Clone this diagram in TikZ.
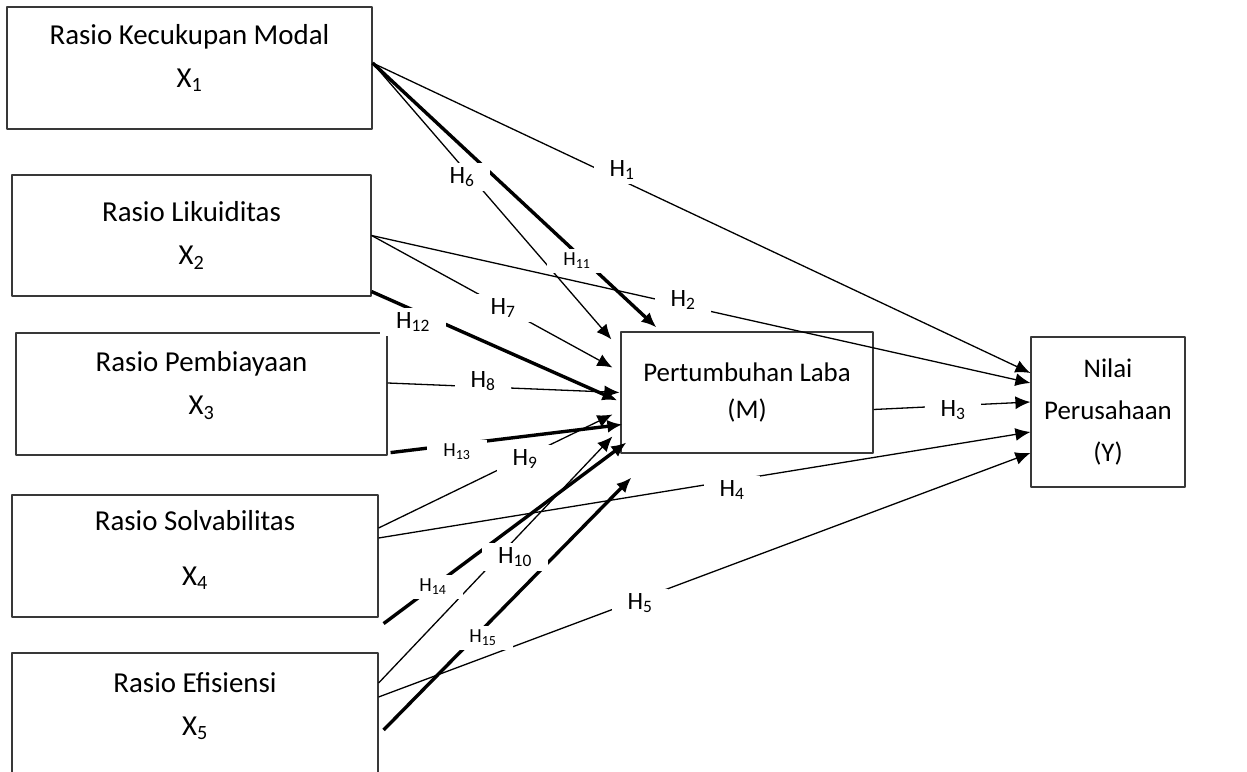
\documentclass[tikz,border=0pt]{standalone}
\usepackage{fontspec}
\setmainfont{Carlito}
\usetikzlibrary{arrows.meta}
\begin{document}
\begin{tikzpicture}[>={Latex[length=15bp,width=13bp]},line join=bevel,
  var box/.style={draw=black!78,line width=1.2bp,align=center,inner sep=0pt,font=\fontsize{29}{43}\selectfont},
  thin path/.style={black,line width=1.3bp,->},
  thick path/.style={black,line width=3.4bp,->},
  hyp/.style={fill=white,inner xsep=16bp,inner ysep=4bp,font=\fontsize{25}{28}\selectfont},
  hyp small/.style={hyp,font=\fontsize{20}{24}\selectfont}]
\useasboundingbox (0bp,0bp) rectangle (1247bp,772bp);
%%
\node (node_x1) at (189.5bp,704bp) [var box,minimum width=365bp,minimum height=122bp,text depth=24bp] {Rasio Kecukupan Modal\\X\textsubscript{1}};
  \node (node_x2) at (191.5bp,536.5bp) [var box,minimum width=359bp,minimum height=121bp] {Rasio Likuiditas\\X\textsubscript{2}};
  \node (node_x3) at (201.5bp,378bp) [var box,minimum width=371bp,minimum height=122bp,text depth=22bp] {Rasio Pembiayaan\\X\textsubscript{3}};
  \node (node_x4) at (195bp,216bp) [var box,minimum width=366bp,minimum height=122bp,text depth=16bp,font=\fontsize{29}{55}\selectfont] {Rasio Solvabilitas\\X\textsubscript{4}};
  \node (node_x5) at (195bp,59bp) [var box,minimum width=366bp,minimum height=120bp,text depth=18bp] {Rasio Efisiensi\\X\textsubscript{5}};
  \node (node_m) at (747bp,379.5bp) [var box,minimum width=252bp,minimum height=121bp,font=\fontsize{27}{37}\selectfont] {Pertumbuhan Laba\\(M)};
  \node (node_y) at (1108bp,360bp) [var box,minimum width=154bp,minimum height=150bp,font=\fontsize{27}{42}\selectfont] {Nilai\\Perusahaan\\(Y)};
%
  \draw [thin path] ([yshift=5bp]node_x1.east) -- ([yshift=39bp]node_y.west);
  \draw [thin path] ([yshift=5bp]node_x1.east) -- ([xshift=-9bp,yshift=-8bp]node_m.north west);
  \draw [thick path] ([yshift=5bp]node_x1.east) -- ([xshift=36bp,yshift=4bp]node_m.north west);
  \draw [thin path] (node_x2.east) -- ([yshift=29bp]node_y.west);
  \draw [thin path] (node_x2.east) -- ([xshift=-8bp,yshift=25bp]node_m.west);
  \draw [thick path] ([yshift=5bp]node_x2.south east) -- ([xshift=-3bp,yshift=-8bp]node_m.west);
  \draw [thin path] ([yshift=11bp]node_x3.east) -- ([xshift=-1bp]node_m.west);
  \draw [thick path] ([xshift=3bp,yshift=3bp]node_x3.south east) -- ([xshift=2bp,yshift=-32bp]node_m.west);
  \draw [thin path] ([yshift=-17bp]node_m.east) -- ([yshift=10bp]node_y.west);
  \draw [thin path] ([yshift=28bp]node_x4.east) -- ([xshift=-8bp,yshift=-22bp]node_m.west);
  \draw [thin path] ([yshift=18bp]node_x4.east) -- ([yshift=-20bp]node_y.west);
  \draw [thick path] ([xshift=5bp,yshift=-6bp]node_x4.south east) -- ([xshift=6bp,yshift=-50bp]node_m.west);
  \draw [thin path] ([yshift=30bp]node_x5.east) -- ([xshift=-8bp,yshift=-44bp]node_m.west);
  \draw [thin path] ([yshift=16bp]node_x5.east) -- ([yshift=-41bp]node_y.west);
  \draw [thick path] ([xshift=5bp,yshift=-17bp]node_x5.east) -- ([xshift=11bp,yshift=-24bp]node_m.south west);
%
  \node (node_h1) at (622bp,602bp) [hyp] {H\textsubscript{1}};
  \node (node_h2) at (683bp,472bp) [hyp] {H\textsubscript{2}};
  \node (node_h3) at (953bp,362bp) [hyp] {H\textsubscript{3}};
  \node (node_h4) at (732bp,282bp) [hyp] {H\textsubscript{4}};
  \node (node_h5) at (640bp,169bp) [hyp] {H\textsubscript{5}};
  \node (node_h6) at (462bp,595bp) [hyp] {H\textsubscript{6}};
  \node (node_h7) at (503bp,464bp) [hyp] {H\textsubscript{7}};
  \node (node_h8) at (483bp,391bp) [hyp] {H\textsubscript{8}};
  \node (node_h9) at (525bp,313bp) [hyp] {H\textsubscript{9}};
  \node (node_h10) at (515bp,215bp) [hyp] {H\textsubscript{10}};
  \node (node_h11) at (577bp,511bp) [hyp small] {H\textsubscript{11}};
  \node (node_h12) at (413bp,450bp) [hyp] {H\textsubscript{12}};
  \node (node_h13) at (457bp,320bp) [hyp small] {H\textsubscript{13}};
  \node (node_h14) at (433bp,185bp) [hyp small] {H\textsubscript{14}};
  \node (node_h15) at (483bp,134bp) [hyp small] {H\textsubscript{15}};
%
\end{tikzpicture}
\end{document}
